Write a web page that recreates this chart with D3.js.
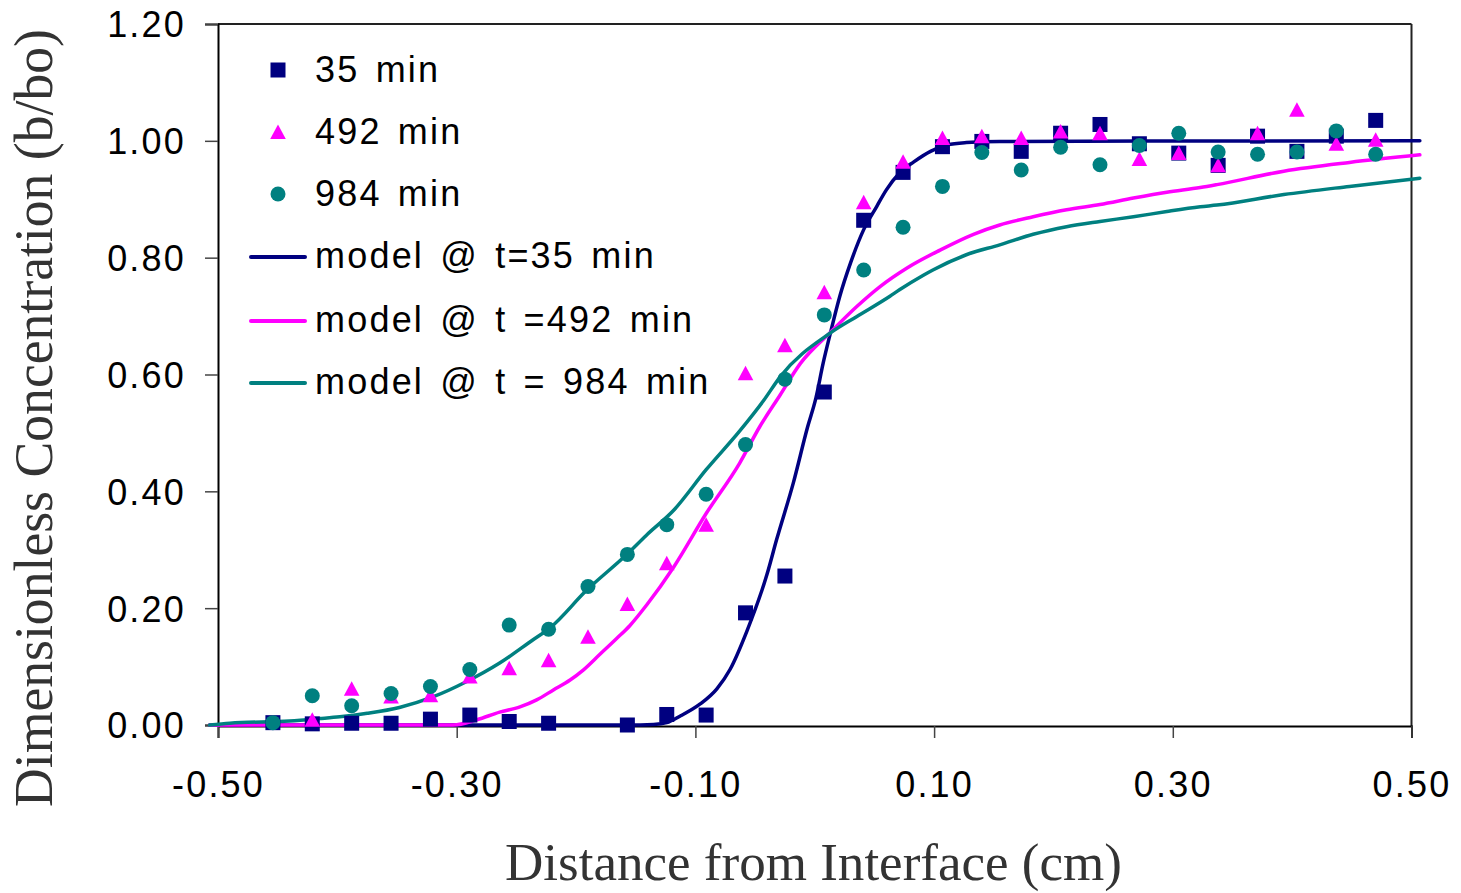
<!DOCTYPE html>
<html><head><meta charset="utf-8">
<script src="https://cdn.jsdelivr.net/npm/d3@7"></script>
<style>
html,body{margin:0;padding:0;background:#fff;}
svg{display:block;}
</style></head>
<body>
<svg id="chart" width="1461" height="893"></svg>
<script>
// ---------- data ----------
const sampleX = [-0.454,-0.421,-0.388,-0.355,-0.322,-0.289,-0.256,-0.223,-0.190,-0.157,-0.124,-0.091,-0.058,-0.025,0.008,0.041,0.074,0.107,0.140,0.173,0.206,0.239,0.272,0.305,0.338,0.371,0.404,0.437,0.470];
// null = point not present
const data35  = [0.004,0.002,0.003,0.003,0.010,0.017,0.006,0.003,null,0.000,0.018,0.017,0.192,0.255,0.570,0.864,0.946,0.990,0.999,0.982,1.013,1.028,0.995,0.979,0.958,1.008,0.982,1.008,1.035];
const data492 = [null,0.009,0.062,0.049,0.051,0.083,0.097,0.111,0.151,0.207,0.277,0.343,0.602,0.650,0.741,0.895,0.964,1.005,1.008,1.005,1.016,1.013,0.969,0.979,0.958,1.013,1.053,0.995,1.002];
const data984 = [0.004,0.050,0.033,0.054,0.066,0.095,0.171,0.164,0.237,0.292,0.343,0.395,0.480,0.592,0.702,0.779,0.852,0.922,0.980,0.950,0.989,0.959,0.992,1.013,0.981,0.977,0.981,1.017,0.977];

const model35X = [-0.507,-0.157,-0.135,-0.124,-0.113,-0.096,-0.082,-0.071,-0.057,-0.040,-0.032,-0.018,-0.006,0.001,0.007,0.013,0.021,0.030,0.041,0.052,0.060,0.071,0.083,0.097,0.111,0.127,0.155,0.507];
const model35Y = [0.000,0.000,0.001,0.004,0.015,0.036,0.062,0.095,0.160,0.258,0.317,0.414,0.510,0.560,0.619,0.670,0.734,0.791,0.848,0.888,0.916,0.945,0.964,0.982,0.993,0.997,0.999,1.000];

const model492X = [-0.507,-0.303,-0.283,-0.264,-0.247,-0.233,-0.219,-0.205,-0.194,-0.180,-0.166,-0.155,-0.141,-0.118,-0.091,-0.063,-0.046,-0.029,-0.012,0.013,0.035,0.055,0.077,0.105,0.133,0.155,0.183,0.211,0.239,0.267,0.295,0.323,0.337,0.393,0.448,0.507];
const model492Y = [0.000,0.000,0.009,0.022,0.031,0.043,0.060,0.077,0.094,0.121,0.148,0.170,0.205,0.271,0.362,0.448,0.511,0.565,0.619,0.672,0.716,0.751,0.782,0.813,0.840,0.856,0.870,0.882,0.891,0.902,0.912,0.920,0.925,0.948,0.963,0.976];

const model984X = [-0.507,-0.490,-0.440,-0.415,-0.398,-0.375,-0.348,-0.320,-0.292,-0.264,-0.236,-0.222,-0.191,-0.158,-0.141,-0.118,-0.091,-0.063,-0.043,-0.029,0.013,0.035,0.063,0.071,0.091,0.099,0.127,0.155,0.183,0.211,0.239,0.267,0.295,0.323,0.337,0.393,0.448,0.507];
const model984Y = [0.000,0.003,0.007,0.011,0.014,0.020,0.030,0.048,0.074,0.106,0.146,0.166,0.231,0.291,0.325,0.368,0.437,0.503,0.555,0.596,0.671,0.699,0.734,0.745,0.770,0.779,0.805,0.822,0.840,0.853,0.862,0.870,0.879,0.887,0.890,0.908,0.922,0.936];

const xTicks = [-0.50,-0.30,-0.10,0.10,0.30,0.50];
const yTicks = [0.00,0.20,0.40,0.60,0.80,1.00,1.20];

const legendLabels = ["35 min","492 min","984 min","model @ t=35 min","model @ t =492 min","model @ t = 984 min"];
const C35 = "#000080", C492 = "#FF00FF", C984 = "#008080";

// ---------- chart ----------
const svg = d3.select("#chart");
const x = d3.scaleLinear().domain([-0.5,0.5]).range([218,1411.5]);
const y = d3.scaleLinear().domain([0,1.2]).range([725,24]);
const sansFont = "'Liberation Sans', Arial, sans-serif";
const serifFont = "'Liberation Serif', 'Times New Roman', serif";
const fmt = d => d.toFixed(2);

// frame (top & right)
svg.append("line").attr("x1",x(-0.5)).attr("x2",x(0.5)).attr("y1",y(1.2)).attr("y2",y(1.2))
  .attr("stroke","#222").attr("stroke-width",2);
svg.append("line").attr("x1",x(0.5)).attr("x2",x(0.5)).attr("y1",y(1.2)).attr("y2",y(0)+1)
  .attr("stroke","#222").attr("stroke-width",2);

// axes
const yAxis = svg.append("g").attr("transform",`translate(${x(-0.5)},0)`)
  .call(d3.axisLeft(y).tickValues(yTicks).tickFormat(fmt).tickSize(13).tickPadding(19));
const xAxis = svg.append("g").attr("transform",`translate(0,${y(0)+1})`)
  .call(d3.axisBottom(x).tickValues(xTicks).tickFormat(fmt).tickSize(12));
[yAxis,xAxis].forEach(g=>{
  g.select(".domain").attr("stroke","#000").attr("stroke-width",2);
  g.selectAll(".tick line").attr("stroke","#444").attr("stroke-width",1.5);
  g.selectAll(".tick text").attr("fill","#000").style("font-family",sansFont)
    .style("font-size","36px").style("letter-spacing","2.2px");
});
xAxis.selectAll(".tick text").attr("y",71).attr("dy",0);
yAxis.selectAll(".tick text").attr("dy","0.36em");

// model lines
const line = d3.line().x(d=>x(d[0])).y(d=>y(d[1])).curve(d3.curveMonotoneX);
const models = [
  {xs:model35X, ys:model35Y, c:C35},
  {xs:model492X, ys:model492Y, c:C492},
  {xs:model984X, ys:model984Y, c:C984}
];
models.forEach(m=>{
  const pts = m.xs.map((v,i)=>[v,m.ys[i]]);
  svg.append("path").datum(pts).attr("d",line).attr("fill","none")
    .attr("stroke",m.c).attr("stroke-width",3.5).attr("stroke-linejoin","round").attr("stroke-linecap","round");
});

// markers
function square(g, cx, cy, c){ g.append("rect").attr("x",cx-7.5).attr("y",cy-7.5).attr("width",15).attr("height",15).attr("fill",c); }
function triangle(g, cx, cy, c){ g.append("path").attr("d",`M${cx},${cy-7.5}L${cx+7.8},${cy+7}L${cx-7.8},${cy+7}Z`).attr("fill",c); }
function circle(g, cx, cy, c){ g.append("circle").attr("cx",cx).attr("cy",cy).attr("r",7.5).attr("fill",c); }

const gPts = svg.append("g");
sampleX.forEach((v,i)=>{ if(data35[i]!==null) square(gPts, x(v), y(data35[i]), C35); });
sampleX.forEach((v,i)=>{ if(data492[i]!==null) triangle(gPts, x(v), y(data492[i]), C492); });
sampleX.forEach((v,i)=>{ if(data984[i]!==null) circle(gPts, x(v), y(data984[i]), C984); });

// legend
const leg = svg.append("g");
const rowY = [70, 132, 194, 256, 320, 382];
const markerFns = [square, triangle, circle];
const colors = [C35, C492, C984, C35, C492, C984];
legendLabels.forEach((t,i)=>{
  if(i<3) markerFns[i](leg, 278, rowY[i], colors[i]);
  else leg.append("line").attr("x1",251).attr("x2",305).attr("y1",rowY[i]+1).attr("y2",rowY[i]+1)
        .attr("stroke",colors[i]).attr("stroke-width",4).attr("stroke-linecap","round");
  leg.append("text").attr("x",315).attr("y",rowY[i]+12).text(t)
    .style("font-family",sansFont).style("font-size","36px").style("letter-spacing","2.2px")
    .style("word-spacing","4px").attr("fill","#000").attr("xml:space","preserve");
});

// axis titles
svg.append("text").attr("x",813.5).attr("y",880).attr("text-anchor","middle")
  .attr("textLength",617).attr("lengthAdjust","spacingAndGlyphs")
  .style("font-family",serifFont).style("font-size","53px").attr("fill","#333")
  .text("Distance from Interface (cm)");
svg.append("text").attr("transform","translate(52,418) rotate(-90)").attr("text-anchor","middle")
  .attr("textLength",778).attr("lengthAdjust","spacingAndGlyphs")
  .style("font-family",serifFont).style("font-size","55px").attr("fill","#333")
  .text("Dimensionless Concentration (b/bo)");
</script>
</body></html>
